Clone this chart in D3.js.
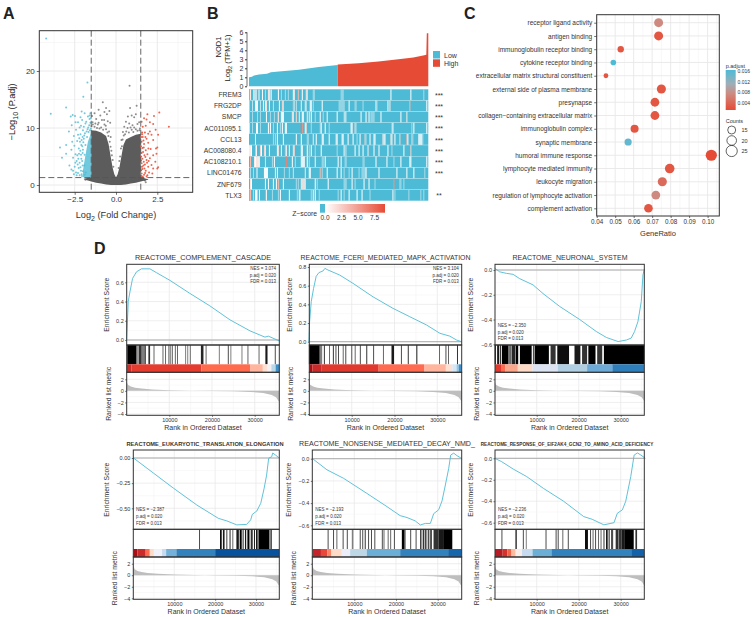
<!DOCTYPE html>
<html>
<head>
<meta charset="utf-8">
<script src="https://cdn.jsdelivr.net/npm/d3@7/dist/d3.min.js"></script>
<style>
body {margin:0; background:#fff;}
text {font-family:"Liberation Sans", Arial, sans-serif; fill:#222;}
</style>
</head>
<body>
<div id="chart"></div>
<script>
var BLUE = '#4DBBD5', RED = '#E64B35', GRAY = '#5c5c5c';

//---A: volcano---
var massX     = [-1.95,-1.5,-1.5,-1.2,-0.9,-0.6,-0.45,-0.3,-0.2,-0.1,0,0.1,0.2,0.3,0.45,0.6,0.9,1.2,1.5,1.5,1.95];
var massUpper = [1.1,1.35,9.6,9.5,9.2,8.6,7.2,4.6,3,1.9,1.3,1.9,3,4.6,7,8,8.4,8.8,9,1.35,1.0];
var massLower = [1.0,0.6,0.6,0.4,0.25,0.1,0.05,0,0,0,0,0,0,0,0.05,0.1,0.25,0.4,0.6,0.6,0.9];
var blueMassX = [-2.0,-1.85,-1.7,-1.5];
var blueMassUp = [2.6,5.2,7.6,9.2];
var blueMassLo = [1.35,1.35,1.35,1.35];
var bluePts = [[-4.23,25.7],[-3.95,12.5],[-3.02,13.6],[-1.98,15.5],[-1.73,18],[-3.39,6.6],[-3.27,4.8],[-3.02,7],[-3.02,5.5],
  [-2.74,12],[-2.62,12.3],[-2.48,12.1],[-2.08,12.9],[-2.68,10.5],[-2.3,11],[-1.9,12.6],[-2.05,11.4],[-1.7,12],[-1.55,12.6],
  [-1.6,11.6],[-2.2,10.1],[-1.85,10.8],[-1.62,10.5],[-2.42,9.7],[-2.55,8.6],[-2.7,6.2],[-2.6,4.8],[-2.35,7.7],[-2.15,8.9],
  [-2,9.6],[-1.78,9.4],[-1.95,8.1],[-2.25,6.4],[-2.1,7],[-2.45,5.4],[-2.28,4.6],[-2.12,5.3],[-2,6.2],[-2.5,3.2],[-2.42,2.2],
  [-2.55,1.9],[-2.32,3.6],[-2.15,3.1],[-2.05,4.2],[-2,2.4],[-1.92,3.4],[-2.2,1.7],[-1.9,1.8],[-1.85,7],[-2.06,1.6],[-1.68,10.1],
  [-1.55,10.9],[-1.75,8.4],[-1.9,5.3],[-2.3,2.1],[-1.83,2.2],[-1.66,9.3],[-1.52,9.9],[-1.58,9.6],[-1.72,9.8],[-1.88,9.1],[-1.92,8.7],
  [-2.02,8.4],[-2.08,7.9],[-2.18,7.6],[-2.22,8.2],[-1.98,7.5],[-2.04,6.8],[-2.16,6],[-2.24,5.5],[-2.34,5.2],[-2.38,4.2],[-2.1,4.6],
  [-2.2,3.9],[-2.26,3],[-2.12,2.5],[-2.02,3.4],[-2.08,1.9],[-2.38,1.7],[-2.46,3.9],[-2.02,5.6],[-2.52,6.9],[-2.3,8.8],[-2.12,10.4],
  [-1.8,11.1],[-1.95,10.2],[-2.65,7.6],[-2.85,9.4],[-2.45,11],[-2.15,11.9],[-1.6,12.2],[-1.52,11.7],[-2.82,3.4],[-2.7,2.7],[-2.6,2.5]];
var redPts = [[2.62,12.7],[3.2,10.2],[2.3,12.1],[1.9,12.4],[1.7,11.7],[1.85,11.5],[2.05,11],[2.25,10.7],[1.55,11.1],[1.62,10.2],
  [1.8,10.4],[2.4,9.7],[2.55,8.8],[2.05,9.4],[1.58,9.2],[1.75,9.2],[1.95,9],[2.15,8.8],[1.62,8.4],[1.85,8.1],[2.25,7.9],[1.55,7.6],
  [1.7,7.2],[1.95,7.4],[2.42,6.4],[2.5,6.6],[2.1,6.3],[1.6,6.5],[1.8,6.1],[1.55,5.6],[1.72,5.2],[1.9,5.4],[2.25,5.2],[2.45,5.5],[1.6,4.6],
  [1.85,4.4],[2.05,4.7],[2.38,4.1],[1.55,3.8],[1.75,3.6],[1.95,3.2],[2.15,3.5],[2.5,2.9],[2.55,3.1],[1.6,2.8],[1.8,2.5],[2,2.2],[2.25,2.9],
  [1.55,2],[1.7,1.8],[1.9,1.7],[2.2,2],[1.62,1.5],[1.85,1.5],[1.58,3.2],[1.68,4.1],[1.52,8.4],[1.66,7.8],[1.52,6.8],[1.64,5.8],[1.52,5],[1.78,4.9],
  [1.52,4.3],[1.66,3.4],[1.52,2.6],[1.72,2.9],[1.88,3.9],[1.52,1.6],[1.76,2.1],[1.68,6.6],[1.78,8.4],[1.58,8.9],[1.96,6.4],[1.98,4.2]];
var grayPts = [[0.82,17.4],[-0.8,14.5],[1.25,13.9],[0.85,13.5],[-0.6,13.5],[-1.05,13.2],[-0.7,12.8],[-1.3,12.6],[-1.45,12.1],[-0.95,12.2],
  [-0.55,12.4],[-0.4,13],[0.95,12.2],[0.72,12],[1.1,11.9],[1.2,12.4],[-1.2,11.6],[-0.85,11.4],[-0.5,11.2],[-1.42,11],[-1.05,10.9],[-0.7,10.6],
  [-0.35,10.9],[0.6,11.1],[0.8,10.8],[1,10.5],[1.3,10.7],[1.4,11],[0.5,10.2],[0.7,10],[-1.3,10.2],[-1.15,10],[-0.9,10.1],[-0.6,9.8],[-0.42,9.4],
  [0.42,9.3],[0.62,9.4],[0.95,9.7],[1.2,9.8],[1.42,9.6],[-0.32,8.4],[0.33,7.9],[-0.28,6],[0.3,6.4],[-0.2,4.4],[0.2,4.2],[-1.75,1],[-1.85,0.9],
  [1.7,0.9],[1.75,0.8],[1.8,0.5],[-1.4,10.6],[-1.25,10.8],[-1,9.9],[-0.78,9.7],[-0.52,9.2],[-0.46,8.6],[-0.38,7.6],[-0.33,6.7],[-0.25,5.2],[-0.16,3.2],
  [0.16,3],[0.25,5],[0.36,6.8],[0.4,8],[0.47,8.7],[0.55,8.9],[0.78,9.2],[1.05,9.3],[1.3,9.5],[1.45,9.9],[-1.1,10.6],[-0.62,10.4],[0.88,10.1],[1.1,10.1],[-0.72,11.4],[-1.48,10.3]];
var volcanoXTicks = [-2.5,0,2.5], volcanoXMinor = [-3.75,-1.25,1.25,3.75];
var volcanoYTicks = [0,10,20], volcanoYMinor = [5,15,25];

//---B: NOD1 expression and z-score stripes---
var lowRank = [0,3,5,10,18,22,30,50,70,89];
var lowExpr = [1.0,1.05,1.2,1.3,1.4,1.55,1.65,1.85,2.15,2.38];
var highRank = [89,110,130,150,165,176,178,178.5,180];
var highExpr = [2.42,2.55,2.75,3.0,3.2,3.45,3.5,5.9,5.9];
var genes = ['FREM3','FRG2DP','SMCP','AC011095.1','CCL13','AC008080.4','AC108210.1','LINC01476','ZNF679','TLX3'];
var stars = ['***','***','***','***','***','***','***','***','','**'];
var zFREM3 = [[0,5],[1,1.5],[4,.4],[5,.4],[6,.4],[7,.4],[9,.3],[10,.3],[13,.7],[16,.3],[19,1.5],[20,1.5],[21,.3],[22,1.8],[29,.7],[32,.3],[36,.3],[39,.3],[44,1],[45,1.3],[49,3],[53,.7],[57,1.5],[58,1.5],[64,.3],[65,.3],[92,.3],[93,.3],[94,.3],[142,.7],[162,.7],[175,.3]];
var zFRG2DP = [[0,3],[3,.4],[6,1],[7,1],[8,1],[11,.4],[14,.7],[16,1.5],[17,1.5],[20,.7],[24,.4],[30,.7],[33,2],[34,2],[44,3],[45,.4],[47,.4],[52,1.3],[56,1.5],[57,.4],[61,.7],[62,.7],[64,.3],[73,.7],[90,.3],[91,.3],[92,.3],[93,.3],[94,.3],[95,.3],[100,.7],[106,.3],[107,.3],[114,.3],[127,.7],[128,.3],[139,.7],[141,1.3],[161,3],[178,.7]];
var zSMCP = [[0,3],[3,.3],[8,.3],[11,.3],[17,.7],[21,.3],[25,.3],[28,5],[29,1.5],[32,.7],[33,.7],[34,.7],[43,1.5],[44,1.3],[47,2],[50,1.5],[53,.7],[54,.7],[58,1.5],[60,1.5],[62,.7],[66,.3],[71,.7],[74,.3],[78,1],[88,.7],[95,.3],[96,.7],[97,.3],[112,.7],[117,.7],[120,.7],[122,.3],[123,.3],[124,.3],[125,.3],[132,.7],[152,.7],[158,1.3]];
var zAC011095 = [[0,2],[3,.3],[7,.7],[8,.7],[11,.3],[19,.7],[21,.7],[24,.3],[28,.7],[31,.3],[33,.7],[36,.7],[37,.7],[52,7],[53,5],[56,.7],[57,2],[62,.3],[71,.3],[72,.7],[76,.7],[80,.3],[102,.7],[103,.7],[106,1.5],[107,.3],[143,.3],[144,.7],[163,.3],[165,.7],[178,.7]];
var zCCL13 = [[6,1.3],[24,.3],[26,.3],[28,.7],[34,.7],[47,.7],[52,.7],[58,.3],[59,.3],[64,1.5],[67,.7],[73,.7],[74,.7],[80,.7],[87,1],[88,.7],[93,.7],[94,.7],[99,.7],[104,.7],[108,.3],[111,.7],[116,2],[117,.3],[121,.7],[125,.7],[126,.7],[134,1.3],[135,1.3],[136,.7],[142,1.5],[143,1],[146,.7],[151,2],[158,3],[159,.7],[163,2.5],[164,.3],[170,.7],[171,.7],[172,.7],[173,.7],[174,.3]];
var zAC008080 = [[0,1.3],[1,1.3],[2,.7],[6,3],[7,1],[11,2],[12,.7],[15,2],[16,1.5],[20,.7],[28,.7],[29,1.5],[32,.7],[36,3],[37,1],[40,1],[44,1.5],[45,2],[52,1],[53,.7],[58,.7],[60,3],[62,.7],[66,.3],[72,.7],[88,.3],[95,.7],[96,.3],[97,.3],[106,.7],[110,.7],[114,.7],[119,1.3],[125,.7],[130,.7],[139,.7],[143,.3],[155,.7],[162,2]];
var zAC108210 = [[1,3],[5,1.3],[6,.7],[7,1.5],[8,1.5],[9,1.3],[10,1.5],[16,2],[23,.3],[25,.7],[37,6],[43,.7],[46,.3],[52,1],[53,.7],[54,.7],[55,.7],[58,.7],[60,.3],[66,1],[73,.3],[74,.3],[76,.7],[89,.7],[92,.7],[96,.3],[97,.3],[114,.3],[115,.3],[127,.7],[138,.7],[145,.3],[152,.7],[161,.7],[162,.7],[178,.7]];
var zLINC01476 = [[1,.3],[4,.3],[7,.3],[8,.3],[15,.7],[16,.7],[17,.7],[18,.7],[26,1.5],[28,.7],[35,.3],[40,.3],[44,2],[56,1.5],[60,.7],[61,.7],[71,3],[73,.3],[78,.7],[88,.7],[92,.7],[95,.3],[100,.3],[103,.7],[110,.3],[113,.3],[114,.3],[115,.3],[116,.3],[117,.7],[130,.7],[148,.7],[158,.7],[165,.7],[176,.3]];
var zZNF679 = [[1,1.5],[2,.7],[16,.7],[19,.7],[24,.7],[27,.7],[29,3],[34,.7],[47,.3],[49,.3],[52,1.3],[53,1.5],[54,1.5],[55,1.3],[56,1.5],[66,.7],[68,.3],[79,.7],[95,.3],[96,.3],[97,.3],[103,.7],[106,.3],[115,.7],[120,.7],[126,.3],[145,5],[151,.3],[152,.3],[155,.3]];
var zTLX3 = [[0,5],[1,3],[4,.3],[6,.7],[7,.7],[8,.3],[10,.7],[16,5],[17,1],[23,.3],[29,.3],[31,.7],[40,.7],[48,.3],[50,.7],[51,.3],[62,.3],[64,1],[66,.7],[70,.3],[89,.3],[92,.7],[95,.3],[100,.7],[108,.7],[113,.7],[121,.3],[144,.7],[146,.3],[160,.3],[172,.3],[175,.3]];
var heatRows = [zFREM3,zFRG2DP,zSMCP,zAC011095,zCCL13,zAC008080,zAC108210,zLINC01476,zZNF679,zTLX3];

//---C: enrichment dots---
var terms = ['receptor ligand activity','antigen binding','immunoglobulin receptor binding','cytokine receptor binding',
  'extracellular matrix structural constituent','external side of plasma membrane','presynapse','collagen\u2212containing extracellular matrix',
  'immunoglobulin complex','synaptic membrane','humoral immune response','lymphocyte mediated immunity','leukocyte migration',
  'regulation of lymphocyte activation','complement activation'];
var geneRatio = [0.0735,0.0735,0.053,0.049,0.045,0.075,0.0715,0.0715,0.0605,0.057,0.102,0.0795,0.0755,0.072,0.068];
var counts = [18,18,13,12,11,18.5,17.5,17.5,15,14,25,20,18.5,17.5,17];
var padjust = [0.008,0.003,0.003,0.016,0.003,0.003,0.003,0.003,0.003,0.015,0.002,0.003,0.005,0.008,0.003];
var ratioTicks = [0.04,0.05,0.06,0.07,0.08,0.09,0.10];
var padjTicks = [0.016,0.012,0.008,0.004];
var countTicks = [15,20,25];

//---D: running scores---
var rank1 = [1,200,390,780,1400,2340,3500,5460,7000,10150,14800,19500,24200,28900,32400,33200,35780];
var es1 = [0,0.2,0.4,0.5,0.64,0.71,0.74,0.74,0.70,0.62,0.485,0.355,0.21,0.095,0.03,0.04,-0.01];
var rank2 = [1,156,550,1090,1700,2340,3280,3740,4450,7180,10300,15000,19650,23550,27450,30600,32900,34500,35650];
var es2 = [0,0.21,0.43,0.57,0.70,0.74,0.757,0.785,0.768,0.714,0.625,0.48,0.357,0.268,0.18,0.09,0.06,0.018,0];
var rank3 = [1,1190,2780,4370,5950,9130,11500,15500,20250,24200,26600,29400,31400,32500,33300,34100,34900,35300,35650];
var es3 = [0.015,-0.015,-0.027,-0.035,-0.07,-0.12,-0.19,-0.295,-0.40,-0.497,-0.545,-0.578,-0.565,-0.55,-0.497,-0.417,-0.255,-0.04,0.01];
var rank4 = [1,4900,9800,15500,20800,22850,25300,27700,28700,29100,30200,31170,32000,32600,33100,33850,34100,34750,35700];
var es4 = [0,-0.15,-0.30,-0.467,-0.6,-0.625,-0.665,-0.66,-0.615,-0.56,-0.527,-0.45,-0.30,-0.17,-0.003,0.013,0.05,0.03,0];
var rank5 = [1,3440,7440,13000,17840,21000,22640,24600,25840,27040,28240,29040,30240,31040,31840,32640,33120,33840,34640,35840];
var es5 = [0,-0.10,-0.177,-0.312,-0.432,-0.513,-0.53,-0.56,-0.597,-0.583,-0.583,-0.495,-0.46,-0.38,-0.237,-0.087,0.033,0.05,0.027,0];
var rank6 = [1,1600,4400,7600,11600,16400,21200,23200,26000,28400,29200,30400,31200,32400,33200,34000,34800,35880];
var es6 = [0,-0.03,-0.10,-0.17,-0.28,-0.40,-0.543,-0.568,-0.62,-0.6,-0.512,-0.48,-0.40,-0.17,0.03,0.05,0.03,0];

// gene hits: from rank, to rank, darkness
var rug1 = [[150,2300,1],[2300,2700,.4],[2800,3500,.8],[3500,4200,.5],[4200,4500,.8],[5100,5500,.8],[6300,6400,.6],[8400,8500,.6],[9000,9100,.6],[9800,9900,.7],[10200,10300,.5],[10600,10700,.6],[11300,11400,.6],[11800,11900,.6],[13700,13800,.5],[14200,14300,.5],[14800,14900,.6],[17400,18000,.85],[18500,18600,.6],[21600,21700,.5],[23700,23800,.7],[24300,24400,.5],[26900,27000,.5],[28300,28400,.6],[30900,31000,.6],[32500,33000,.9],[34700,34800,.7]];
var rug2 = [[0,2500,1],[2500,3100,.5],[3500,3600,.8],[4700,4800,.6],[5600,5700,.8],[6200,6300,.7],[6800,6900,.7],[7900,8000,.6],[8500,8600,.7],[9900,10000,.7],[10700,10800,.6],[11900,12000,.7],[13400,13500,.8],[15000,15100,.7],[17300,17400,.6],[19300,19900,.9],[21500,21600,.7],[23100,23200,.8],[25100,25200,.9],[30400,30500,.6],[31900,32000,.7],[32500,32600,.6],[34600,34700,.8]];
var rug3 = [[0,300,.9],[600,1000,1],[1200,1500,.8],[1700,3300,1],[3500,3800,.9],[4000,4900,.85],[5000,5600,1],[6000,8800,1],[9100,9500,.7],[9600,12900,1],[13300,14500,.8],[14900,17700,.95],[19000,20400,.9],[20800,22000,.8],[22300,24000,1],[24400,25600,.8],[26000,35650,1]];
var rug4 = [[16050,16250,.7],[21200,21600,1],[21900,22300,.9],[22700,23000,.6],[23500,23800,.7],[24200,24400,.6],[25200,25800,.9],[26000,26500,1],[26700,27000,.7],[27300,27600,.9],[27900,28400,1],[28700,29200,.8],[29500,29700,.9],[30000,30400,.9],[30600,33300,1],[33500,33900,.7]];
var rug5 = [[3600,3700,.7],[4900,5000,.7],[5700,5800,.6],[7200,7300,.7],[8200,8300,.7],[9400,9800,.5],[11300,11500,.7],[11900,12000,.7],[12500,12700,.8],[13300,13500,.7],[14000,14200,.7],[14800,15000,.7],[16600,16700,.7],[17000,17100,.6],[18000,18200,.6],[18600,18800,.6],[19500,19700,.7],[21400,22000,1],[22000,22300,.7],[23400,23500,.7],[24700,24800,.7],[25800,26100,.9],[26400,26800,.8],[27000,27300,.9],[27600,28000,.7],[28200,28600,.8],[29000,30200,.8],[30200,31500,.9],[31500,33500,1]];
var rug6 = [[1600,1700,.7],[4900,5300,.7],[6700,6800,.7],[7400,7600,.5],[12100,12200,.7],[14500,14600,.7],[15000,15200,.7],[16100,16200,.6],[17400,17500,.7],[21500,22200,.95],[22700,22900,.7],[23300,23500,.6],[23900,24100,.7],[24600,24800,.6],[25200,25400,.6],[25900,26100,.8],[26500,26900,.9],[27100,27400,.7],[27700,28200,.7],[28800,29500,.8],[29600,30200,.8],[30200,31000,.9],[31000,33100,1],[33500,33900,.8]];

// ordered list colour strip: from rank, to rank, colour
var band1 = [[0,1100,'#C9302C'],[1100,17500,'#E43D30'],[17500,29000,'#FF6B4D'],[29000,31900,'#FFB59E'],[31900,32900,'#FEE0D2'],[32900,33900,'#F4F0F4'],[33900,34900,'#BBD7EA'],[34900,35780,'#3F8FC9']];
var band2 = [[0,800,'#A50F15'],[800,3000,'#CB2A2A'],[3000,16300,'#E0392E'],[16300,27000,'#FF6B50'],[27000,32000,'#FFB59E'],[32000,33500,'#FDE0D2'],[33500,34500,'#D6E6F4'],[34500,35000,'#92C5DE'],[35000,35650,'#3F8FC9']];
var band3 = [[0,1500,'#E0392E'],[1500,2500,'#FF6B50'],[2500,5500,'#FCA68C'],[5500,9000,'#FDDBC7'],[9000,15000,'#DCE3F2'],[15000,22000,'#B0CFE3'],[22000,28000,'#6DAAD7'],[28000,35650,'#2E7EBC']];
var band4 = [[0,1000,'#A50F15'],[1000,3000,'#CB2A2A'],[3000,4000,'#FF6B50'],[4000,5000,'#FDDBC7'],[5000,7000,'#EEF0FA'],[7000,8000,'#C6DBEF'],[8000,10500,'#73B0DA'],[10500,20000,'#3182BD'],[20000,35700,'#08519C']];
var band5 = [[0,2000,'#C4232A'],[2000,3500,'#E8473A'],[3500,4500,'#FF8466'],[4500,7000,'#FDDBC7'],[7000,9000,'#EBEDF9'],[9000,13000,'#BDD7E7'],[13000,21000,'#6BAED6'],[21000,32500,'#3182BD'],[32500,35840,'#1666AB']];
var band6 = [[0,1900,'#B71C24'],[1900,3000,'#D6302A'],[3000,4000,'#F0654A'],[4000,5000,'#FDBBA0'],[5000,6500,'#F9EDE9'],[6500,9000,'#C6DBEF'],[9000,13500,'#6BAED6'],[13500,32500,'#3182BD'],[32500,35880,'#1361A9']];

var metricRank = [1,300,1000,2000,3500,6000,10000,15000,20000,25000,29000,32000,34000,35000,35700];
var metricVal = [1.6,1.05,0.75,0.55,0.4,0.25,0.12,0.03,-0.03,-0.08,-0.18,-0.35,-0.7,-1.1,-1.9];
var rankTicks = [10000,20000,30000], rankMinor = [5000,15000,25000,35000];
var metricTicks = [2,0,-2,-4], metricMinor = [1,-1,-3];

var gseaTitles = ['REACTOME_COMPLEMENT_CASCADE','REACTOME_FCERI_MEDIATED_MAPK_ACTIVATION','REACTOME_NEURONAL_SYSTEM',
  'REACTOME_EUKARYOTIC_TRANSLATION_ELONGATION','REACTOME_NONSENSE_MEDIATED_DECAY_NMD_','REACTOME_RESPONSE_OF_EIF2AK4_GCN2_TO_AMINO_ACID_DEFICIENCY'];
var nesLabels = ['NES = 3.074','NES = 3.104','NES = \u22122.350','NES = \u22122.387','NES = \u22122.193','NES = \u22122.236'];

var svg = d3.select('#chart').append('svg')
	.attr('width',753)
	.attr('height',617)
	.style('display','block');

function frame(x,y,w,h){
	svg.append('rect').attr('x',x).attr('y',y).attr('width',w).attr('height',h)
		.style('fill','none').style('stroke','#333').style('stroke-width',1);
}
function gridV(xs,scale,y0,y1,col,sw){
	svg.append('g').selectAll('line').data(xs).enter().append('line')
		.attr('x1',scale).attr('x2',scale).attr('y1',y0).attr('y2',y1)
		.style('stroke',col).style('stroke-width',sw);
}
function gridH(ys,scale,x0,x1,col,sw){
	svg.append('g').selectAll('line').data(ys).enter().append('line')
		.attr('y1',scale).attr('y2',scale).attr('x1',x0).attr('x2',x1)
		.style('stroke',col).style('stroke-width',sw);
}
function styleAxis(g,fs){
	g.select('.domain').remove();
	g.selectAll('line').style('stroke','#333').style('stroke-width',0.7);
	g.selectAll('text').style('font-size',fs+'px').style('font-family','"Liberation Sans"').style('fill','#333');
}
function label(x,y,txt,fs,anchor,weight){
	return svg.append('text').attr('x',x).attr('y',y).text(txt)
		.style('font-size',fs+'px').style('text-anchor',anchor||'start').style('font-weight',weight||'normal');
}
function vlabel(x,y,txt,fs){
	return svg.append('text').attr('transform','translate('+x+','+y+') rotate(-90)').text(txt)
		.style('font-size',fs+'px').style('text-anchor','middle');
}

label(3,19,'A',16,'start','bold');
label(207,19,'B',16,'start','bold');
label(464,19,'C',16,'start','bold');
label(94,254,'D',16,'start','bold');

//---A---
var ax = d3.scaleLinear().domain([-2.5,2.5]).range([74.7,157.3]);
var ay = d3.scaleLinear().domain([0,20]).range([185,71]);
gridV(volcanoXMinor,ax,30.7,192.3,'#f2f2f2',0.6);
gridH(volcanoYMinor,ay,39.3,192.7,'#f2f2f2',0.6);
gridV(volcanoXTicks,ax,30.7,192.3,'#e8e8e8',0.9);
gridH(volcanoYTicks,ay,39.3,192.7,'#e8e8e8',0.9);

var massArea = d3.area().x(function(d){return ax(d[0]);}).y0(function(d){return ay(d[2]);}).y1(function(d){return ay(d[1]);});
svg.append('path').datum(massX.map(function(x,i){return [x,massUpper[i],massLower[i]];}))
	.attr('d',massArea).style('fill',GRAY);
svg.append('path').datum(blueMassX.map(function(x,i){return [x,blueMassUp[i],blueMassLo[i]];}))
	.attr('d',massArea).style('fill',BLUE).style('opacity',0.8);
function dots(pts,col,op){
	svg.append('g').selectAll('circle').data(pts).enter().append('circle')
		.attr('cx',function(d){return ax(d[0]);}).attr('cy',function(d){return ay(d[1]);}).attr('r',1)
		.style('fill',col).style('opacity',op);
}
dots(grayPts,GRAY,0.7);
dots(bluePts,BLUE,0.8);
dots(redPts,RED,0.85);

[-1.5,1.5].forEach(function(v){
	svg.append('line').attr('x1',ax(v)).attr('x2',ax(v)).attr('y1',30.7).attr('y2',192.3)
		.style('stroke','#555').style('stroke-width',0.9).style('stroke-dasharray','6,3');
});
svg.append('line').attr('x1',39.3).attr('x2',192.7).attr('y1',ay(1.3)).attr('y2',ay(1.3))
	.style('stroke','#555').style('stroke-width',0.9).style('stroke-dasharray','6,3');
frame(39.3,30.7,153.4,161.6);
var gax = svg.append('g').attr('transform','translate(0,192.3)').call(d3.axisBottom(ax).tickValues(volcanoXTicks).tickFormat(d3.format('.1f')).tickSize(2.5).tickPadding(2));
styleAxis(gax,8);
var gay = svg.append('g').attr('transform','translate(39.3,0)').call(d3.axisLeft(ay).tickValues(volcanoYTicks).tickSize(2.5).tickPadding(2));
styleAxis(gay,8);

var at = svg.append('text').attr('x',116).attr('y',218).style('font-size','9.2px').style('text-anchor','middle').style('fill','#333');
at.append('tspan').text('Log');
at.append('tspan').text('2').attr('dy',2.5).style('font-size','7px');
at.append('tspan').text(' (Fold Change)').attr('dy',-2.5);
var at2 = svg.append('text').attr('transform','translate(15,112) rotate(-90)').style('font-size','9.2px').style('text-anchor','middle');
at2.append('tspan').text('\u2212Log');
at2.append('tspan').text('10').attr('dy',2.5).style('font-size','7px');
at2.append('tspan').text(' (P.adj)').attr('dy',-2.5);

//---B---
var bx = d3.scaleLinear().domain([0,180]).range([249,428.3]);
var by = d3.scaleLinear().domain([0,6]).range([86.3,32.3]);
var exprArea = d3.area().x(function(d){return bx(d[0]);}).y0(by(0)).y1(function(d){return by(d[1]);});
svg.append('path').datum(lowRank.map(function(r,i){return [r,lowExpr[i]];})).attr('d',exprArea).style('fill',BLUE);
svg.append('path').datum(highRank.map(function(r,i){return [r,highExpr[i]];})).attr('d',exprArea).style('fill',RED);
var gby = svg.append('g').attr('transform','translate(247,0)').call(d3.axisLeft(by).tickValues([0,1,2,3,4,5,6]).tickFormat(d3.format('d')).tickSize(2).tickPadding(1.5));
gby.select('.domain').attr('d','M0,'+by(6)+'V'+by(0)).style('stroke','#333').style('stroke-width',0.7);
gby.selectAll('line').style('stroke','#333');
gby.selectAll('text').style('font-size','7px').style('font-family','"Liberation Sans"').style('fill','#333');
vlabel(221,47,'NOD1',7.5);
var bt = svg.append('text').attr('transform','translate(230,58) rotate(-90)').style('font-size','7.5px').style('text-anchor','middle');
bt.append('tspan').text('Log');
bt.append('tspan').text('2').attr('dy',2).style('font-size','5.5px');
bt.append('tspan').text(' (TPM+1)').attr('dy',-2);

var rowY = d3.scaleBand().domain(genes).range([89.3,200.7]).paddingInner(0.03);
var zColor = d3.scaleLinear().domain([0,0.3,0.7,3,9]).range([BLUE,'#a9dcea','#ffffff','#f8b9a9',RED]).clamp(true);
genes.forEach(function(g,i){
	svg.append('rect').attr('x',bx(0)).attr('y',rowY(g)).attr('width',bx(180)-bx(0)).attr('height',rowY.bandwidth()).style('fill',BLUE);
	svg.append('g').selectAll('rect').data(heatRows[i]).enter().append('rect')
		.attr('x',function(d){return bx(d[0]);})
		.attr('y',rowY(g))
		.attr('width',bx(1)-bx(0))
		.attr('height',rowY.bandwidth())
		.style('fill',function(d){return zColor(d[1]);});
	label(241.5,rowY(g)+rowY.bandwidth()/2+2.4,g,6.8,'end').style('fill','#333');
	label(439,rowY(g)+rowY.bandwidth()/2+3.2,stars[i],7,'middle').style('fill','#333');
});

svg.append('rect').attr('x',433).attr('y',51).attr('width',7).attr('height',7.5).style('fill',BLUE);
svg.append('rect').attr('x',433).attr('y',59.3).attr('width',7).attr('height',7.5).style('fill',RED);
label(444,57.5,'Low',7).style('fill','#333');
label(444,66,'High',7).style('fill','#333');

var defs = svg.append('defs');
var zg = defs.append('linearGradient').attr('id','zgrad');
zg.append('stop').attr('offset','0%').attr('stop-color',BLUE);
zg.append('stop').attr('offset','7%').attr('stop-color',BLUE);
zg.append('stop').attr('offset','8%').attr('stop-color','#fff');
zg.append('stop').attr('offset','100%').attr('stop-color',RED);
svg.append('rect').attr('x',320).attr('y',204).attr('width',65).attr('height',8.7).style('fill','url(#zgrad)');
label(317,216,'Z\u2212score',6.8,'end').style('fill','#333');
var zx = d3.scaleLinear().domain([0,7.5]).range([325,374.5]);
[0,2.5,5,7.5].forEach(function(v){ label(zx(v),220,d3.format('.1f')(v),6.5,'middle').style('fill','#333'); });

//---C---
var cx = d3.scaleLinear().domain([0.04,0.10]).range([596.7,707.6]);
var cy = d3.scalePoint().domain(terms).range([22.7,208.3]);
var cMinor = [0.045,0.055,0.065,0.075,0.085,0.095,0.105];
gridV(cMinor,cx,14.7,216,'#f2f2f2',0.6);
gridV(ratioTicks,cx,14.7,216,'#e8e8e8',0.9);
gridH(terms,cy,596.7,719.3,'#e8e8e8',0.9);
var pColor = d3.scaleLinear().domain([0.002,0.008,0.012,0.016]).range([RED,'#CE8A80','#A0AEB8',BLUE]);
var cSize = d3.scaleLinear().domain([11,15,25]).range([2.4,4,5.6]);
svg.append('g').selectAll('circle').data(terms).enter().append('circle')
	.attr('cx',function(d,i){return cx(geneRatio[i]);})
	.attr('cy',function(d){return cy(d);})
	.attr('r',function(d,i){return cSize(counts[i]);})
	.style('fill',function(d,i){return pColor(padjust[i]);});
frame(596.7,14.7,122.6,201.3);
var gcx = svg.append('g').attr('transform','translate(0,216)').call(d3.axisBottom(cx).tickValues(ratioTicks).tickFormat(d3.format('.2f')).tickSize(2).tickPadding(1.5));
styleAxis(gcx,6.3);
var gcy = svg.append('g').attr('transform','translate(596.7,0)').call(d3.axisLeft(cy).tickSize(2.5).tickPadding(2));
styleAxis(gcy,6.5);
label(658,236,'GeneRatio',7.5,'middle').style('fill','#333');

var pg = defs.append('linearGradient').attr('id','pgrad').attr('x1',0).attr('x2',0).attr('y1',0).attr('y2',1);
pg.append('stop').attr('offset','0%').attr('stop-color',BLUE);
pg.append('stop').attr('offset','35%').attr('stop-color','#A0AEB8');
pg.append('stop').attr('offset','60%').attr('stop-color','#CE8A80');
pg.append('stop').attr('offset','100%').attr('stop-color',RED);
label(725.7,68,'p.adjust',5.5).style('fill','#333');
svg.append('rect').attr('x',725.7).attr('y',70).attr('width',10).attr('height',40).style('fill','url(#pgrad)');
var py = d3.scaleLinear().domain([0.016,0.004]).range([71,102.5]);
padjTicks.forEach(function(v){ label(737.5,py(v)+2,d3.format('.3f')(v),5,'start').style('fill','#333'); });
label(725.7,123,'Counts',5.5).style('fill','#333');
var legY = d3.scalePoint().domain(countTicks).range([130,151]);
countTicks.forEach(function(v){
	svg.append('circle').attr('cx',731.7).attr('cy',legY(v)).attr('r',cSize(v))
		.style('fill','none').style('stroke','#222').style('stroke-width',0.7);
	label(741.5,legY(v)+2,v,5.5).style('fill','#333');
});

//---D: top and bottom row share a layout, each panel has its own ticks---
var esTicks = [[0,0.2,0.4,0.6],[0,0.2,0.4,0.6,0.8],[0,-0.2,-0.4,-0.6],[0,-0.25,-0.5],[0,-0.2,-0.4,-0.6],[0,-0.2,-0.4,-0.6]];
var esFmt = ['.1f','.1f','.1f','.2f','.1f','.1f'];
var rowGeom = [
	{top:264.3,rug:345,band:364.3,rank:372.3,bot:415.3,m2:379.3,m4:414,tl:422,ttl:430,ty:260.3},
	{top:450,rug:529.3,band:549,rank:557,bot:599.3,m2:563.7,m4:598.3,tl:606,ttl:614,ty:446}
];
var panels = [
	{row:0,l:126.7,r:279.3,t10:169.3,t30:254.7,es0:340,esA:0.6,esAy:282.3,rank:rank1,es:es1,rug:rug1,band:band1,fs:7.3,fw:'normal',cx:203,nx:276,na:'end',ny:270,lab:17.5},
	{row:0,l:309.3,r:461.7,t10:351.7,t30:437.3,es0:341.7,esA:0.8,esAy:267,rank:rank2,es:es2,rug:rug2,band:band2,fs:6.9,fw:'normal',cx:385.5,nx:458.7,na:'end',ny:270,lab:17.5},
	{row:0,l:495,r:644.3,t10:536.7,t30:620.7,es0:270,esA:-0.6,esAy:344.3,rank:rank3,es:es3,rug:rug3,band:band3,fs:7,fw:'normal',cx:570,nx:497.7,na:'start',ny:327,lab:22},
	{row:1,l:133.3,r:279.3,t10:174.3,t30:256,es0:458,esA:-0.5,esAy:508.3,rank:rank4,es:es4,rug:rug4,band:band4,fs:5.7,fw:'bold',cx:205,nx:136,na:'start',ny:511.3,lab:24},
	{row:1,l:312.3,r:461.7,t10:354.3,t30:437.7,es0:458.7,esA:-0.6,esAy:525.3,rank:rank5,es:es5,rug:rug5,band:band5,fs:7.1,fw:'normal',cx:387,nx:315.3,na:'start',ny:511.3,lab:21},
	{row:1,l:495,r:644.3,t10:536.7,t30:620.7,es0:458.3,esA:-0.6,esAy:522.7,rank:rank6,es:es6,rug:rug6,band:band6,fs:4.65,fw:'bold',cx:567,nx:498,na:'start',ny:511.3,lab:22}
];

panels.forEach(function(p,i){
	var g = rowGeom[p.row];
	var x = d3.scaleLinear().domain([10000,30000]).range([p.t10,p.t30]);
	var y = d3.scaleLinear().domain([0,p.esA]).range([p.es0,p.esAy]);
	var m = d3.scaleLinear().domain([2,-4]).range([g.m2,g.m4]);
	var step = esTicks[i][1]-esTicks[i][0];
	var esMinor = esTicks[i].map(function(v){return v+step/2;}).concat([esTicks[i][0]-step/2]);

	// grid
	gridV(rankMinor.filter(function(v){return x(v)<p.r;}),x,g.top,g.rug,'#f2f2f2',0.5);
	gridV(rankTicks,x,g.top,g.rug,'#e6e6e6',0.7);
	gridH(esMinor.filter(function(v){return y(v)>g.top && y(v)<g.rug;}),y,p.l,p.r,'#f2f2f2',0.5);
	gridH(esTicks[i],y,p.l,p.r,'#e6e6e6',0.7);
	gridV(rankMinor.filter(function(v){return x(v)<p.r;}),x,g.rank,g.bot,'#f2f2f2',0.5);
	gridV(rankTicks,x,g.rank,g.bot,'#e6e6e6',0.7);
	gridH(metricMinor,m,p.l,p.r,'#f2f2f2',0.5);
	gridH(metricTicks,m,p.l,p.r,'#e6e6e6',0.7);

	// running score
	svg.append('line').attr('x1',p.l).attr('x2',p.r).attr('y1',y(0)).attr('y2',y(0))
		.style('stroke','#aaa').style('stroke-width',1);
	var line = d3.line().x(function(d){return x(d[0]);}).y(function(d){return y(d[1]);});
	svg.append('path').datum(p.rank.map(function(r,j){return [r,p.es[j]];})).attr('d',line)
		.style('fill','none').style('stroke',BLUE).style('stroke-width',0.9);

	// hits
	svg.append('g').selectAll('rect').data(p.rug).enter().append('rect')
		.attr('x',function(d){return x(d[0]);})
		.attr('y',g.rug)
		.attr('width',function(d){return Math.max(x(d[1])-x(d[0]),1);})
		.attr('height',g.band-g.rug)
		.style('fill','#000')
		.style('opacity',function(d){return d[2];});

	// colour strip
	svg.append('g').selectAll('rect').data(p.band).enter().append('rect')
		.attr('x',function(d){return Math.max(x(d[0]),p.l);})
		.attr('y',g.band)
		.attr('width',function(d){return Math.min(x(d[1]),p.r)-Math.max(x(d[0]),p.l);})
		.attr('height',g.rank-g.band)
		.style('fill',function(d){return d[2];});

	// ranked metric
	var marea = d3.area().x(function(d){return x(d[0]);}).y0(m(0)).y1(function(d){return m(d[1]);});
	svg.append('path').datum(metricRank.map(function(r,j){return [r,metricVal[j]];})).attr('d',marea)
		.style('fill','#bebebe');

	frame(p.l,g.top,p.r-p.l,g.rug-g.top);
	frame(p.l,g.rug,p.r-p.l,g.rank-g.rug);
	frame(p.l,g.rank,p.r-p.l,g.bot-g.rank);

	var ga = svg.append('g').attr('transform','translate(0,'+g.bot+')').call(d3.axisBottom(x).tickValues(rankTicks).tickFormat(d3.format('d')).tickSize(1.5).tickPadding(1.5));
	styleAxis(ga,5.5);
	var gb = svg.append('g').attr('transform','translate('+p.l+',0)').call(d3.axisLeft(y).tickValues(esTicks[i]).tickFormat(d3.format(esFmt[i])).tickSize(1.5).tickPadding(1.5));
	styleAxis(gb,5.5);
	var gc = svg.append('g').attr('transform','translate('+p.l+',0)').call(d3.axisLeft(m).tickValues(metricTicks).tickFormat(d3.format('d')).tickSize(1.5).tickPadding(1.5));
	styleAxis(gc,5.5);

	label(p.cx,g.ty,gseaTitles[i],p.fs,'middle',p.fw).style('fill','#333');
	label((p.l+p.r)/2,g.ttl,'Rank in Ordered Dataset',7,'middle').style('fill','#333');
	vlabel(p.l-p.lab,(g.top+g.rug)/2,'Enrichment Score',6.8).style('fill','#333');
	vlabel(p.l-16,(g.rank+g.bot)/2,'Ranked list metric',6.8).style('fill','#333');

	label(p.nx,p.ny,nesLabels[i],4.5,p.na).style('fill','#333');
	label(p.nx,p.ny+6.6,'p.adj = 0.020',4.5,p.na).style('fill','#333');
	label(p.nx,p.ny+13.2,'FDR = 0.013',4.5,p.na).style('fill','#333');
});
</script>
</body>
</html>
